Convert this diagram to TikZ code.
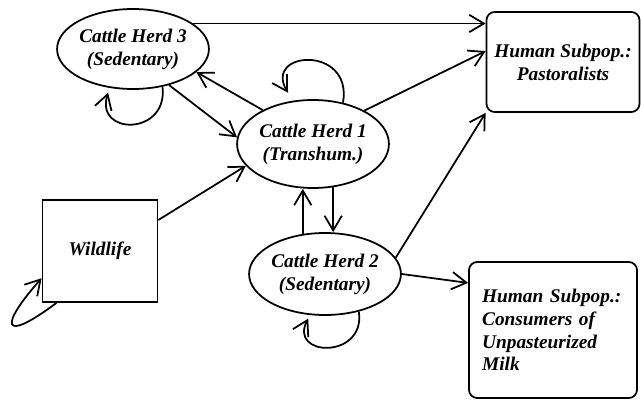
\documentclass[tikz,border=0pt]{standalone}
\usepackage{fontspec}
\setmainfont{Liberation Serif}
\usetikzlibrary{arrows.meta,shapes.geometric}
\tikzset{
  T/.style      = {font=\bfseries\itshape\fontsize{16.5}{19.5}\selectfont},
  herdE/.style  = {T, draw, line width=1.5pt, ellipse, inner sep=0pt,
                   align=center},
  popB/.style   = {T, draw, line width=1.5pt, rounded corners=7pt,
                   align=center},
  wildB/.style  = {T, draw, line width=1.5pt, minimum width=3.45cm,
                   minimum height=3.06cm},
  A/.style      = {-{Straight Barb[length=0.44cm, width=0.52cm]},
                   line width=1.5pt},
}

\begin{document}
\begin{tikzpicture}[x=0.03cm, y=0.03cm]

\useasboundingbox (0,0) rectangle (641,-400);

%% ─── Cattle herds ────────────────────────────────────────────────
\node[herdE, minimum width=4.29cm, minimum height=2.40cm]
  (h3) at (133,-49) {Cattle Herd 3\\(Sedentary)};
\node[herdE, minimum width=4.29cm, minimum height=2.64cm]
  (h1) at (313,-144) {Cattle Herd 1\\(Transhum.)};
\node[herdE, minimum width=4.41cm, minimum height=2.46cm]
  (h2) at (325,-274) {Cattle Herd 2\\(Sedentary)};

%% ─── Wildlife ────────────────────────────────────────────────────
\node[wildB] (wild) at (100,-251) {Wildlife};

%% ─── Human subpopulations ────────────────────────────────────────
\node[popB, minimum width=4.59cm, minimum height=3.0cm]
  (past) at (563,-62) {Human Subpop.:\\Pastoralists};
\node[popB, minimum width=5.04cm, minimum height=4.08cm,
      text width=4.25cm, align=left]
  (cons) at (553,-330)
  {Human Subpop.:\\Consumers of\\Unpasteurized\\Milk};

%% ─── Transmission between herds ──────────────────────────────────
\draw[A] (h3.-45) -- (h1.175);
\draw[A] (h1.146) -- (h3.-20);
\draw[A] (wild.28) -- (h1.198);
\draw[A] (h1.-65) -- (h1.-65 |- h2.north);
\draw[A] (h2.119) -- (h2.119 |- h1.south);

%% ─── Spill-over to humans ────────────────────────────────────────
\draw[A] (h3.23) -- (h3.23 -| past.west);
\draw[A] (h1.33) -- (past.172);
\draw[A] (h2.13) -- (past.south west);
\draw[A] (h2.east) -- (cons.151);

%% ─── Within-group loops ──────────────────────────────────────────
\draw[A, shorten >=0.28cm] (h1.54) .. controls +(10,58) and +(-30,50) .. (h1.115);
\draw[A, shorten >=0.15cm] (h3.-52) .. controls +(6,-49) and +(-15,-48) .. (h3.-121);
\draw[A, shorten >=0.12cm] (h2.-48) .. controls +(7,-48) and +(-22,-42) .. (h2.-110);
\draw[A] (wild.230) .. controls (0,-345) and (0,-325) .. (wild.205);

\end{tikzpicture}
\end{document}
